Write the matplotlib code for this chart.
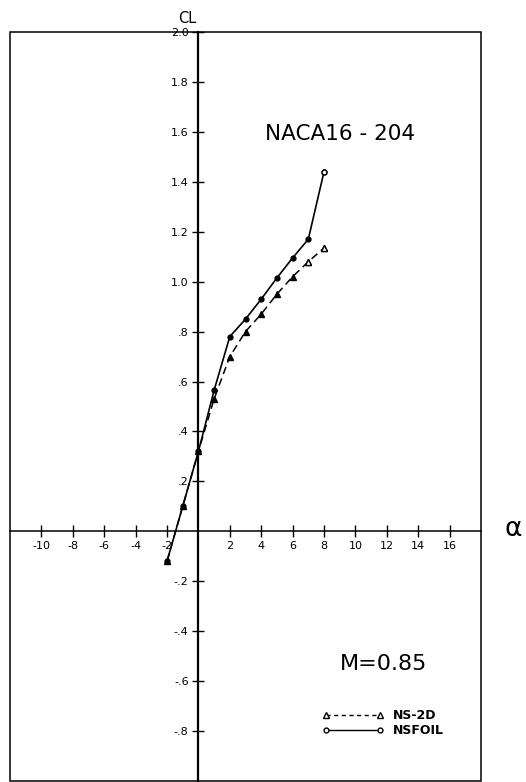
import numpy as np
import matplotlib
matplotlib.use("Agg")
import matplotlib.pyplot as plt
from matplotlib.patches import Rectangle
from matplotlib.lines import Line2D
from matplotlib.ticker import FuncFormatter

# === DATA: lift coefficient vs angle of attack, NACA 16-204 at M=0.85 ===
alpha_deg = [-2, -1, 0, 1, 2, 3, 4, 5, 6, 7, 8]
cl_ns2d = [-0.12, 0.10, 0.32, 0.53, 0.70, 0.80, 0.87, 0.95, 1.02, 1.08, 1.135]
cl_nsfoil = [-0.12, 0.10, 0.32, 0.565, 0.78, 0.85, 0.93, 1.015, 1.095, 1.17, 1.44]

x_ticks = [-10, -8, -6, -4, -2, 2, 4, 6, 8, 10, 12, 14, 16]
y_ticks = [-0.8, -0.6, -0.4, -0.2, 0.2, 0.4, 0.6, 0.8, 1.0, 1.2, 1.4, 1.6, 1.8, 2.0]

X_RANGE = (-12, 18)
Y_RANGE = (-1.0, 2.0)
FONT = "DejaVu Sans"


def cl_label(v, _pos=None):
    # old-style labels: ".8", "-.2", "1.2"
    s = f"{v:.1f}"
    if abs(v) < 1:
        s = s.replace("0.", ".")
    return s


fig = plt.figure(figsize=(5.26, 7.82), dpi=100)
ax = fig.add_axes([10 / 526, 1 / 782, 471 / 526, 749 / 782])

# axes crossing at the origin
for side in ("top", "right"):
    ax.spines[side].set_visible(False)
ax.spines["left"].set_position("zero")
ax.spines["bottom"].set_position("zero")
ax.spines["left"].set_linewidth(1.6)
ax.spines["bottom"].set_linewidth(1.1)

# outer frame
ax.add_patch(Rectangle((0, 0), 1, 1, transform=ax.transAxes, fill=False,
                       lw=1.1, ec="black", clip_on=False, zorder=0))

ax.set_xlim(X_RANGE)
ax.set_ylim(Y_RANGE)
ax.set_xticks(x_ticks)
ax.set_yticks(y_ticks)
ax.xaxis.set_major_formatter(FuncFormatter(lambda v, p: f"{v:.0f}"))
ax.yaxis.set_major_formatter(FuncFormatter(cl_label))
ax.tick_params(direction="inout", length=8, width=1.0, labelsize=8, pad=3)
for lab in ax.get_xticklabels() + ax.get_yticklabels():
    lab.set_fontfamily(FONT)

# NS-2D (dashed, triangles)
ax.plot(alpha_deg, cl_ns2d, color="black", lw=1.1, ls=(0, (5, 3)),
        marker="^", ms=5, mfc="black", mec="black", zorder=3)
ax.plot(alpha_deg[-2:], cl_ns2d[-2:], ls="none", marker="^", ms=5,
        mfc="white", mec="black", mew=1.0, zorder=4)

# NSFOIL (solid, circles)
ax.plot(alpha_deg, cl_nsfoil, color="black", lw=1.2, ls="-",
        marker="o", ms=3.5, mfc="black", mec="black", zorder=3)
ax.plot(alpha_deg[-1:], cl_nsfoil[-1:], ls="none", marker="o", ms=3.5,
        mfc="white", mec="black", mew=1.0, zorder=4)

# labels
ax.text(-0.7, 2.025, "CL", fontsize=10.5, family=FONT, ha="center", va="bottom")
ax.text(1.068, 0.01, "α", transform=ax.get_yaxis_transform(), fontsize=19,
        family=FONT, ha="center", va="center")
ax.text(9.0, 1.59, "NACA16 - 204", fontsize=15.5, family=FONT,
        ha="center", va="center")
ax.text(11.8, -0.53, "M=0.85", fontsize=16, family=FONT,
        ha="center", va="center")

handles = [
    Line2D([], [], color="black", lw=1.0, ls=(0, (3, 2.5)), marker="^", ms=4,
           mfc="white", mec="black"),
    Line2D([], [], color="black", lw=1.0, ls="-", marker="o", ms=3.5,
           mfc="white", mec="black"),
]
leg = ax.legend(handles, ["NS-2D", "NSFOIL"], loc="upper left",
                bbox_to_anchor=(322 / 526, 1 - 709 / 782),
                bbox_transform=fig.transFigure, frameon=False, numpoints=2,
                handlelength=4.9, handletextpad=0.75, labelspacing=0.15,
                borderpad=0, borderaxespad=0,
                prop={"family": FONT, "size": 9, "weight": "bold"})

fig.savefig("out.png", dpi=100)
